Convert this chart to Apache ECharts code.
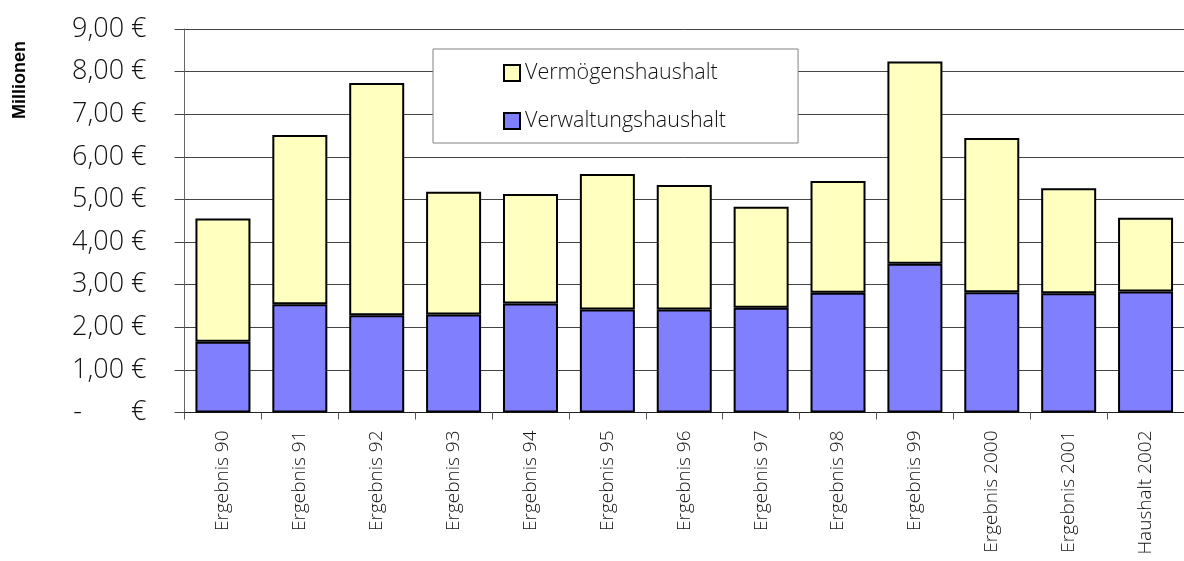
<!DOCTYPE html>
<html>
<head>
<meta charset="utf-8">
<script src="https://cdn.jsdelivr.net/npm/echarts@6/dist/echarts.min.js"></script>
<style>
  html, body { margin: 0; padding: 0; background: #fff; }
  #chart { width: 1184px; height: 561px; }
</style>
</head>
<body>
<div id="chart"></div>
<script>
var categories = ['Ergebnis 90', 'Ergebnis 91', 'Ergebnis 92', 'Ergebnis 93', 'Ergebnis 94', 'Ergebnis 95',
  'Ergebnis 96', 'Ergebnis 97', 'Ergebnis 98', 'Ergebnis 99', 'Ergebnis 2000', 'Ergebnis 2001', 'Haushalt 2002'];
// Millionen Euro
var verwaltung = [1.66, 2.54, 2.28, 2.30, 2.56, 2.42, 2.42, 2.46, 2.81, 3.49, 2.82, 2.80, 2.84];
var vermoegen = [2.89, 3.97, 5.45, 2.88, 2.57, 3.18, 2.92, 2.37, 2.62, 4.75, 3.62, 2.46, 1.73];

var font = '"Open Sans", Lato, sans-serif';
var myChart = echarts.init(document.getElementById('chart'));

var option = {
  animation: false,
  backgroundColor: '#fff',
  grid: {
    left: 184.5,
    top: 29,
    bottom: 148.5,
    width: 1002
  },
  legend: {
    orient: 'vertical',
    left: 433,
    top: 49,
    padding: [13, 72, 11, 70],
    itemGap: 26,
    itemWidth: 16,
    itemHeight: 16,
    backgroundColor: '#fff',
    borderColor: '#808080',
    borderWidth: 1,
    icon: 'rect',
    data: ['Vermögenshaushalt', 'Verwaltungshaushalt'],
    textStyle: { fontFamily: font, fontSize: 21.5, color: '#111', fontWeight: 300 }
  },
  graphic: [{
    type: 'text',
    x: 20,
    y: 80,
    rotation: Math.PI / 2,
    style: {
      text: 'Millionen',
      fontFamily: 'Arial, "Liberation Sans", sans-serif',
      fontWeight: 'bold',
      fontSize: 18,
      fill: '#000',
      align: 'center',
      verticalAlign: 'middle'
    }
  }],
  xAxis: {
    type: 'category',
    data: categories,
    axisLine: { lineStyle: { color: '#222', width: 1 } },
    axisTick: { show: true, length: 7, lineStyle: { color: '#555' } },
    axisLabel: {
      rotate: 90,
      margin: 18,
      interval: 0,
      fontFamily: font,
      fontSize: 19,
      fontWeight: 300,
      color: '#111'
    }
  },
  yAxis: {
    type: 'value',
    min: 0,
    max: 9,
    interval: 1,
    axisLine: { show: true, lineStyle: { color: '#666', width: 1 } },
    axisTick: { show: true, length: 10, lineStyle: { color: '#444' } },
    splitLine: { lineStyle: { color: '#444', width: 1 } },
    axisLabel: {
      margin: 38,
      fontFamily: font,
      fontSize: 27,
      fontWeight: 300,
      color: '#111',
      formatter: function (v) {
        if (v === 0) return '-       €';
        return v.toFixed(2).replace('.', ',') + ' €';
      }
    }
  },
  series: [{
    name: 'Verwaltungshaushalt',
    type: 'bar',
    stack: 'total',
    barWidth: 55,
    data: verwaltung,
    itemStyle: { color: '#8080FF', borderColor: '#000', borderWidth: 2 }
  }, {
    name: 'Vermögenshaushalt',
    type: 'bar',
    stack: 'total',
    barWidth: 55,
    data: vermoegen,
    itemStyle: { color: '#FFFFC0', borderColor: '#000', borderWidth: 2 }
  }]
};

myChart.setOption(option);
</script>
</body>
</html>
